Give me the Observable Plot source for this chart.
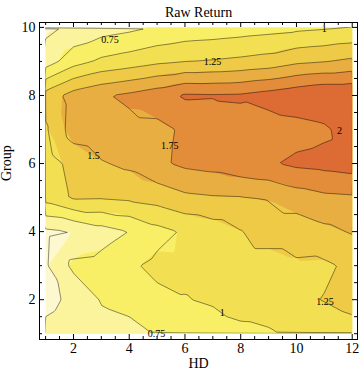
<!DOCTYPE html>
<html>
<head>
<meta charset="utf-8">
<script src="https://cdn.jsdelivr.net/npm/d3@7"></script>
<script src="https://cdn.jsdelivr.net/npm/@observablehq/plot@0.6"></script>
<style>
  html, body { margin: 0; padding: 0; background: #fff; }
  #chart { width: 360px; height: 380px; }
</style>
</head>
<body>
<div id="chart"></div>
<script>
// Grid axes
const hdValues = [1, 2, 3, 4, 5, 6, 7, 8, 9, 10, 11, 12];
const groupValues = [1, 2, 3, 4, 5, 6, 7, 8, 9, 10];

// Raw return by group (rows), one value per HD column
const group1  = [0.55, 0.60, 0.65, 0.70, 0.76, 0.84, 0.88, 0.93, 0.97, 1.05, 1.10, 1.15];
const group2  = [0.45, 0.54, 0.77, 0.80, 0.94, 0.99, 1.03, 1.12, 1.13, 1.20, 1.26, 1.33];
const group3  = [0.47, 0.81, 0.84, 0.96, 1.06, 1.05, 1.07, 1.15, 1.15, 1.22, 1.21, 1.30];
const group4  = [0.45, 0.505, 0.64, 0.755, 0.92, 1.03, 1.12, 1.24, 1.35, 1.35, 1.44, 1.52];
const group5  = [1.10, 1.28, 1.27, 1.30, 1.35, 1.45, 1.48, 1.49, 1.52, 1.63, 1.70, 1.72];
const group6  = [1.13, 1.33, 1.48, 1.55, 1.70, 1.80, 1.84, 1.92, 1.97, 2.05, 2.08, 2.12];
const group7  = [1.215, 1.62, 1.66, 1.67, 1.68, 1.79, 1.80, 1.90, 1.87, 1.90, 1.95, 2.15];
const group8  = [1.35, 1.60, 1.72, 1.80, 1.90, 2.03, 2.02, 2.03, 2.10, 2.18, 2.25, 2.25];
const group9  = [0.62, 0.90, 1.05, 1.12, 1.20, 1.245, 1.27, 1.305, 1.35, 1.45, 1.49, 1.55];
const group10 = [0.44, 0.55, 0.63, 0.69, 0.77, 0.83, 0.85, 0.88, 0.91, 0.94, 0.97, 1.00];
const groupRows = [group1, group2, group3, group4, group5, group6, group7, group8, group9, group10];

// Contour levels and band colours
const fillLevels = [0.25, 0.5, 0.75, 1, 1.25, 1.5, 1.75, 2];
const lineLevels = [0.5, 0.75, 1, 1.25, 1.5, 1.75, 2];
const bandColors = ["#fdf8cf", "#fbf49c", "#f8ef66", "#f3e052", "#eeca47", "#e9ae41", "#e38d3a", "#dc6b34"];

// Contour labels
const labelText  = ["0.75", "1", "1.25", "1.5", "1.75", "2", "0.75", "1", "1.25"];
const labelHD    = [3.31, 11.0, 6.99, 2.72, 5.45, 11.54, 4.98, 7.34, 11.02];
const labelGroup = [9.63, 9.97, 9.0, 6.23, 6.51, 6.97, 1.0, 1.62, 1.94];

// Axis ticks
const xMajor = [2, 4, 6, 8, 10, 12];
const yMajor = [2, 4, 6, 8, 10];
const xMinor = d3.range(1, 12.01, 0.5).filter(d => !xMajor.includes(d));
const yMinor = d3.range(1, 10.01, 0.5).filter(d => !yMajor.includes(d));

const points = [];
groupValues.forEach((g, gi) => hdValues.forEach((h, hi) => points.push({hd: h, group: g, v: groupRows[gi][hi]})));
const labels = labelText.map((t, i) => ({text: t, hd: labelHD[i], group: labelGroup[i]}));

const W = 360, H = 380, mL = 39, mR = 3, mT = 22, mB = 41;
const FW = W - mL - mR, FH = H - mT - mB;
const hdMin = d3.min(hdValues), hdMax = d3.max(hdValues);
const gMin = d3.min(groupValues), gMax = d3.max(groupValues);

const chart = Plot.plot({
  width: W, height: H,
  marginLeft: mL, marginRight: mR, marginTop: mT, marginBottom: mB,
  style: {fontFamily: "'Liberation Serif', 'Times New Roman', serif", fontSize: "14px", color: "black", background: "white"},
  x: {domain: [hdMin - 0.219, hdMax + 0.19], axis: null},
  y: {domain: [gMin - 0.17, gMax + 0.144], axis: null},
  color: {type: "ordinal", domain: fillLevels, range: bandColors},
  marks: [
    Plot.contour(points, {x: "hd", y: "group", fill: "v", stroke: "none", thresholds: fillLevels,
      interpolate: "barycentric", x1: hdMin, x2: hdMax, y1: gMin, y2: gMax}),
    Plot.contour(points, {x: "hd", y: "group", value: "v", fill: "none", stroke: "black", strokeOpacity: 0.45, strokeWidth: 1,
      thresholds: lineLevels, interpolate: "barycentric", x1: hdMin - 0.1, x2: hdMax + 0.1, y1: gMin - 0.1, y2: gMax + 0.1}),
    Plot.text(labels, {x: "hd", y: "group", text: "text", fontSize: 10, fill: "black"}),
    Plot.frame({stroke: "black"}),
    Plot.tickX(xMajor, {x: d => d, insetTop: FH - 5, stroke: "black"}),
    Plot.tickX(xMajor, {x: d => d, insetBottom: FH - 5, stroke: "black"}),
    Plot.tickX(xMinor, {x: d => d, insetTop: FH - 3, stroke: "black"}),
    Plot.tickX(xMinor, {x: d => d, insetBottom: FH - 3, stroke: "black"}),
    Plot.tickY(yMajor, {y: d => d, insetRight: FW - 5, stroke: "black"}),
    Plot.tickY(yMajor, {y: d => d, insetLeft: FW - 5, stroke: "black"}),
    Plot.tickY(yMinor, {y: d => d, insetRight: FW - 3, stroke: "black"}),
    Plot.tickY(yMinor, {y: d => d, insetLeft: FW - 3, stroke: "black"}),
    Plot.text(xMajor, {x: d => d, text: d => String(d), frameAnchor: "bottom", lineAnchor: "top", dy: 4, fontSize: 14}),
    Plot.text(yMajor, {y: d => d, text: d => String(d), frameAnchor: "left", textAnchor: "end", dx: -4, fontSize: 14}),
    Plot.text(["Raw Return"], {text: d => d, frameAnchor: "top", dy: -15.5, fontSize: 14}),
    Plot.text(["HD"], {text: d => d, frameAnchor: "bottom", dy: 28.5, fontSize: 14}),
    Plot.text(["Group"], {text: d => d, frameAnchor: "left", rotate: -90, dx: -32.5, fontSize: 14})
  ]
});

// Clip the contour lines to the data region (computed through the plot's own scales)
const sx = chart.scale("x"), sy = chart.scale("y");
const ns = "http://www.w3.org/2000/svg";
const defs = document.createElementNS(ns, "defs");
const cp = document.createElementNS(ns, "clipPath");
cp.setAttribute("id", "dataclip");
const r = document.createElementNS(ns, "rect");
const xa = sx.apply(hdMin), xb = sx.apply(hdMax), ya = sy.apply(gMax), yb = sy.apply(gMin);
r.setAttribute("x", Math.min(xa, xb));
r.setAttribute("y", Math.min(ya, yb));
r.setAttribute("width", Math.abs(xb - xa));
r.setAttribute("height", Math.abs(yb - ya));
cp.appendChild(r);
defs.appendChild(cp);
chart.insertBefore(defs, chart.firstChild);
const cgs = chart.querySelectorAll('g[aria-label="contour"]');
if (cgs.length > 1) {
  const wrap = document.createElementNS(ns, "g");
  wrap.setAttribute("clip-path", "url(#dataclip)");
  cgs[1].parentNode.insertBefore(wrap, cgs[1]);
  wrap.appendChild(cgs[1]);
}

document.getElementById("chart").appendChild(chart);
</script>
</body>
</html>
